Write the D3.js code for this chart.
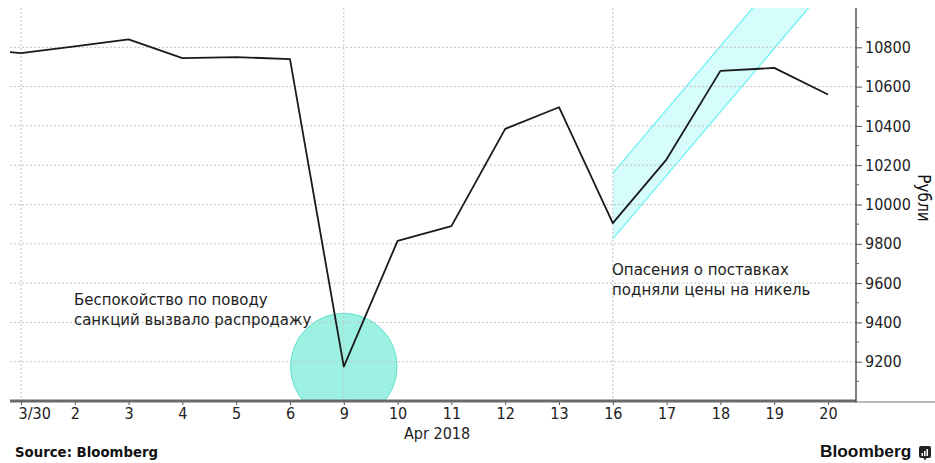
<!DOCTYPE html>
<html>
<head>
<meta charset="utf-8">
<script src="https://cdn.jsdelivr.net/npm/d3@7"></script>
<style>
  html, body { margin: 0; padding: 0; background: #fff; }
  svg { display: block; }
</style>
</head>
<body>
<svg id="chart" width="935" height="463"></svg>
<script>
// Nickel price in roubles, daily closes
const dates = ["3/29", "3/30", "2", "3", "4", "5", "6", "9", "10", "11", "12", "13", "16", "17", "18", "19", "20"];
const prices = [10795, 10770, 10805, 10840, 10745, 10750, 10740, 9175, 9815, 9890, 10385, 10495, 9905, 10230, 10680, 10695, 10560];
const tickDates = ["3/30", "2", "3", "4", "5", "6", "9", "10", "11", "12", "13", "16", "17", "18", "19", "20"];
const gridDates = ["3/30", "9", "16"];
const yTicks = [9200, 9400, 9600, 9800, 10000, 10200, 10400, 10600, 10800];
const yMinorTicks = [9100, 9300, 9500, 9700, 9900, 10100, 10300, 10500, 10700, 10900];

// Rising channel drawn around the rally from the 16th
const bandDates = ["16", "20"];
const bandLow = [9825, 11117];
const bandHigh = [10160, 11452];

const noteLeft = ["Беспокойство по поводу", "санкций вызвало распродажу"];
const noteRight = ["Опасения о поставках", "подняли цены на никель"];
const axisTitle = "Рубли";
const monthLabel = "Apr 2018";
const sourceLabel = "Source: Bloomberg";
const brandLabel = "Bloomberg";

const W = 935, H = 463;
const plot = { left: 10, right: 856, top: 8, bottom: 401 };
const tickFont = "'DejaVu Sans Condensed', 'DejaVu Sans', sans-serif";

const svg = d3.select("#chart");

const x = d3.scalePoint().domain(dates).range([-32.8, 828]);
const y = d3.scaleLinear().domain([9000, 11000]).range([plot.bottom, plot.top]);

svg.append("defs").append("clipPath").attr("id", "plotClip")
  .append("rect")
  .attr("x", plot.left).attr("y", plot.top)
  .attr("width", plot.right - plot.left).attr("height", plot.bottom - plot.top);

const inner = svg.append("g").attr("clip-path", "url(#plotClip)");

// Highlight circle at the sell-off low
const lowIdx = dates.indexOf("9");
inner.append("circle")
  .attr("cx", x("9"))
  .attr("cy", y(prices[lowIdx]))
  .attr("r", x.step() * 0.99)
  .attr("fill", "#9df1e2")
  .attr("stroke", "#5fe2cc")
  .attr("stroke-width", 1);

// Channel band
const bandData = bandDates.map((d, i) => ({ d, lo: bandLow[i], hi: bandHigh[i] }));
inner.append("path")
  .datum(bandData)
  .attr("fill", "#d6fcfc")
  .attr("d", d3.area().x(p => x(p.d)).y0(p => y(p.lo)).y1(p => y(p.hi)));
["lo", "hi"].forEach(k => {
  inner.append("path")
    .datum(bandData)
    .attr("fill", "none")
    .attr("stroke", "#6ef3f5")
    .attr("stroke-width", 1.3)
    .attr("d", d3.line().x(p => x(p.d)).y(p => y(p[k])));
});

// Grid
inner.append("g").selectAll("line").data(yTicks).join("line")
  .attr("x1", plot.left).attr("x2", plot.right)
  .attr("y1", d => y(d)).attr("y2", d => y(d))
  .attr("stroke", "#c4c4c4").attr("stroke-width", 1)
  .attr("stroke-dasharray", "2,2");
inner.append("g").selectAll("line").data(gridDates).join("line")
  .attr("x1", d => x(d)).attr("x2", d => x(d))
  .attr("y1", plot.top).attr("y2", plot.bottom)
  .attr("stroke", "#c4c4c4").attr("stroke-width", 1)
  .attr("stroke-dasharray", "2,2");

// Price line
inner.append("path")
  .datum(dates.map((d, i) => ({ d, v: prices[i] })))
  .attr("fill", "none")
  .attr("stroke", "#1a1a1a")
  .attr("stroke-width", 1.8)
  .attr("stroke-linejoin", "round")
  .attr("d", d3.line().x(p => x(p.d)).y(p => y(p.v)));

// Bottom axis
const xAxis = d3.axisBottom(x).tickValues(tickDates).tickSize(4).tickPadding(3);
const gx = svg.append("g").attr("transform", `translate(0,${plot.bottom})`).call(xAxis);
gx.select(".domain").remove();
gx.selectAll(".tick line").attr("stroke", "#555");
gx.selectAll(".tick text")
  .attr("font-family", tickFont).attr("font-size", 16).attr("fill", "#222");
gx.selectAll(".tick text").filter(d => d === "3/30")
  .attr("text-anchor", "start").attr("dx", -3);

svg.append("line")
  .attr("x1", plot.left).attr("x2", plot.right)
  .attr("y1", plot.bottom).attr("y2", plot.bottom)
  .attr("stroke", "#6a6a6a").attr("stroke-width", 3);
svg.append("line")
  .attr("x1", plot.right).attr("x2", W)
  .attr("y1", plot.bottom + 1).attr("y2", plot.bottom + 1)
  .attr("stroke", "#777").attr("stroke-width", 1);

svg.append("text")
  .attr("x", 404).attr("y", 439)
  .attr("font-family", tickFont).attr("font-size", 16).attr("fill", "#222")
  .text(monthLabel);

// Right axis
const yAxis = d3.axisRight(y).tickValues(yTicks).tickSize(6).tickPadding(3).tickFormat(d3.format("d"));
const gy = svg.append("g").attr("transform", `translate(${plot.right},0)`).call(yAxis);
gy.select(".domain").remove();
gy.selectAll(".tick line").attr("stroke", "#555");
gy.selectAll(".tick text")
  .attr("font-family", tickFont).attr("font-size", 16).attr("fill", "#222");
svg.append("g").selectAll("line").data(yMinorTicks).join("line")
  .attr("x1", plot.right).attr("x2", plot.right + 3)
  .attr("y1", d => y(d)).attr("y2", d => y(d))
  .attr("stroke", "#666");
svg.append("line")
  .attr("x1", plot.right).attr("x2", plot.right)
  .attr("y1", plot.top).attr("y2", plot.bottom + 1.5)
  .attr("stroke", "#555").attr("stroke-width", 1.5);

svg.append("text")
  .attr("transform", `translate(918,198) rotate(90)`)
  .attr("text-anchor", "middle")
  .attr("font-family", tickFont).attr("font-size", 17).attr("fill", "#111")
  .text(axisTitle);

// Annotations
const noteFont = tickFont;
svg.append("text").attr("font-family", noteFont).attr("font-size", 16.6).attr("fill", "#222")
  .selectAll("tspan").data(noteLeft).join("tspan")
  .attr("x", 74).attr("y", (d, i) => 305 + i * 19.5).text(d => d);
svg.append("text").attr("font-family", noteFont).attr("font-size", 16.7).attr("fill", "#222")
  .selectAll("tspan").data(noteRight).join("tspan")
  .attr("x", 612).attr("y", (d, i) => 275 + i * 19.5).text(d => d);

// Footer
svg.append("text")
  .attr("x", 15).attr("y", 457)
  .attr("font-family", "'DejaVu Sans', sans-serif").attr("font-weight", "bold")
  .attr("font-size", 13.3).attr("fill", "#111")
  .text(sourceLabel);

svg.append("text")
  .attr("x", 820).attr("y", 457)
  .attr("font-family", "'Liberation Sans', Arial, sans-serif").attr("font-weight", "bold")
  .attr("font-size", 17.3).attr("fill", "#111")
  .text(brandLabel);

const logo = svg.append("g").attr("transform", "translate(919,446)");
logo.append("rect").attr("width", 12).attr("height", 12).attr("rx", 2).attr("fill", "#222");
logo.append("path").attr("d", "M4.5,12 L6,14.5 L7.5,12 Z").attr("fill", "#222");
[[2.5, 7, 3], [5, 5, 5], [7.5, 3, 7]].forEach(([bx, by, bh]) => {
  logo.append("rect").attr("x", bx).attr("y", by).attr("width", 1.5).attr("height", bh).attr("fill", "#fff");
});
</script>
</body>
</html>
